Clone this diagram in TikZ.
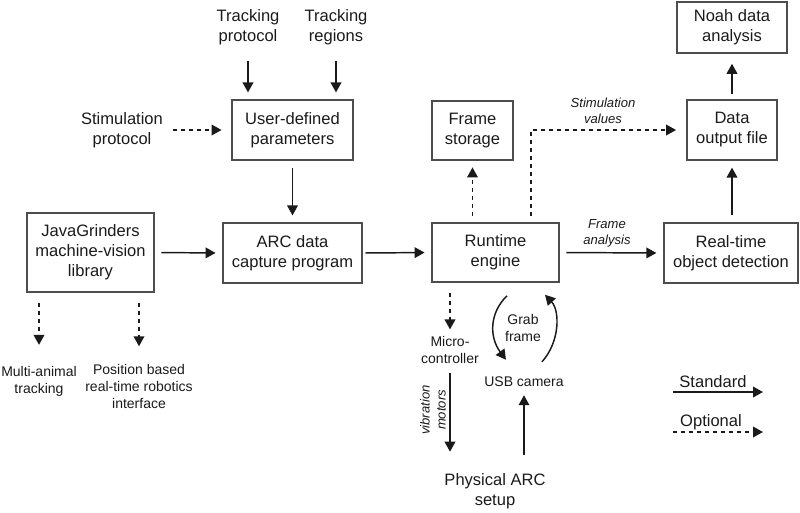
\documentclass[tikz,border=0pt]{standalone}
\usepackage{fontspec}
\setmainfont{Liberation Sans}
\usetikzlibrary{arrows.meta,calc}
\definecolor{boxgray}{HTML}{4D4D4D}
\definecolor{inkc}{HTML}{1A1A1A}
\newcommand\mainf{\fontsize{12.4}{15}\selectfont}
\newcommand\smallf{\fontsize{10.5}{12.75}\selectfont}
\newcommand\itf{\fontsize{9.8}{12}\selectfont\itshape}
\begin{document}
\begin{tikzpicture}[x=0.75pt,y=-0.75pt,
  box/.style={draw=boxgray, line width=1.4pt, align=center, inner sep=0pt, font=\mainf, text=inkc},
  txt/.style={align=center, inner sep=0pt, font=\mainf, text=inkc},
  stxt/.style={align=center, inner sep=0pt, font=\smallf, text=inkc},
  itxt/.style={align=center, inner sep=0pt, font=\itf, text=inkc},
  arr/.style={draw=inkc, line width=1.1pt, -{Triangle[length=7.5pt,width=8pt]}, shorten <=5pt, shorten >=5pt},
  darr/.style={arr, dash pattern=on 3pt off 3pt},
  curv/.style={draw=inkc, line width=1.1pt, -{Triangle[length=7.5pt,width=8pt]}},
]
\path[use as bounding box] (0,0) rectangle (800,512);

% boxes
\node[box, minimum width=82.5pt, minimum height=38pt] (noah) at (732,27.5) {Noah data\\analysis};
\node[box, minimum width=67.5pt, minimum height=45pt] (dout) at (732,130) {Data\\output file};
\node[box, minimum width=100.5pt, minimum height=45pt] (rtod) at (731,253) {Real-time\\object detection};
\node[box, minimum width=95pt, minimum height=44pt] (rt) at (495.5,252.5) {Runtime\\engine};
\node[box, minimum width=61pt, minimum height=44pt] (fs) at (472.5,130.5) {Frame\\storage};
\node[box, minimum width=104pt, minimum height=45pt] (arc) at (292.5,253) {ARC data\\capture program};
\node[box, minimum width=91pt, minimum height=45pt] (udp) at (292.5,130) {User-defined\\parameters};
\node[box, minimum width=95pt, minimum height=59pt] (jg) at (90.5,252.5) {JavaGrinders\\machine-vision\\library};

% free texts
\node[txt] (tp) at (248,27) {Tracking\\protocol};
\node[txt] (tr) at (336,27) {Tracking\\regions};
\node[txt] (sp) at (122,130) {Stimulation\\protocol};
\node[stxt] (ma) at (39,381.5) {Multi-animal\\tracking};
\node[stxt] (pb) at (139,386) {Position based\\real-time robotics\\interface};
\node[stxt] (mc) at (450,350) {Micro-\\controller};
\node[stxt] (usb) at (524,382) {USB camera};
\node[txt] (phys) at (495,491) {Physical ARC\\setup};
\node[stxt] (gf) at (523,328) {Grab\\frame};
\node[itxt] (sv) at (603,111) {Stimulation\\values};
\node[itxt] (fa) at (607,233) {Frame\\analysis};
\node[itxt, rotate=90] (vm) at (433,410) {vibration\\motors};
\node[txt] (lstd) at (713,382) {Standard};
\node[txt] (lopt) at (711,422) {Optional};

% connectors
\draw[arr, shorten <=12pt] (tp.south) -- (tp.south |- udp.north);
\draw[arr, shorten <=12pt] (tr.south) -- (tr.south |- udp.north);
\draw[darr, shorten <=7.5pt, shorten >=7pt] (sp.east) -- (sp.east -| udp.west);
\draw[arr] (udp.south) -- (arc.north);
\draw[arr] (jg.east) -- (arc.west);
\draw[arr, shorten <=2pt] (arc.east) -- (rt.west);
\draw[arr] (rt.east) -- (rtod.west);
\draw[arr] (dout.south |- rtod.north) -- (dout.south);
\draw[arr, shorten <=3.5pt, shorten >=7.5pt] (dout.north) -- (noah.south);
\draw[darr] (fs.south |- rt.north) -- (fs.south);
\draw[darr, shorten >=7.5pt] ([xshift=26.6pt]rt.north) |- (dout.west);
\draw[darr, shorten <=8pt] (mc.north |- rt.south) -- (mc.north);
\draw[arr, shorten <=7pt, shorten >=16pt] (mc.south) -- (mc.south |- phys.north);
\draw[arr, shorten <=13.5pt, shorten >=6pt] (usb.south |- phys.north) -- (usb.south);
\draw[darr, shorten <=8pt, shorten >=16pt] (ma.north |- jg.south) -- (ma.north);
\draw[darr, shorten <=8pt, shorten >=13pt] (pb.north |- jg.south) -- (pb.north);

% grab frame loop
\draw[curv] ($(rt.south)+(11.5,13)$) .. controls ($(rt.south)+(-6,30)$) and ($(usb.north)+(-35,-40)$) .. ($(usb.north)+(-18,-17)$);
\draw[curv] ($(usb.north)+(18,-15)$) .. controls ($(usb.north)+(36,-35)$) and ($(rt.south)+(64.5,28)$) .. ($(rt.south)+(49.5,12)$);

% legend
\coordinate (s1) at (673,392);
\coordinate (s2) at (763,392);
\coordinate (o1) at (673,432);
\coordinate (o2) at (763,432);
\draw[arr, shorten <=0pt, shorten >=0pt] (s1) -- (s2);
\draw[darr, shorten <=0pt, shorten >=0pt] (o1) -- (o2);
\end{tikzpicture}
\end{document}
